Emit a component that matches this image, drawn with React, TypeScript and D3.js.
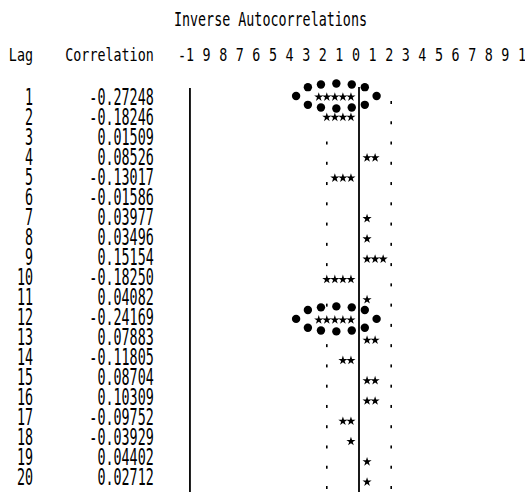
import React from "react";
import * as d3 from "d3";

// SAS style inverse autocorrelation printout
const lags = [1, 2, 3, 4, 5, 6, 7, 8, 9, 10, 11, 12, 13, 14, 15, 16, 17, 18, 19, 20];
const correlations = [
  -0.27248, -0.18246, 0.01509, 0.08526, -0.13017, -0.01586, 0.03977, 0.03496, 0.15154, -0.1825,
  0.04082, -0.24169, 0.07883, -0.11805, 0.08704, 0.10309, -0.09752, -0.03929, 0.04402, 0.02712,
];
const tickValues = [-1, -0.9, -0.8, -0.7, -0.6, -0.5, -0.4, -0.3, -0.2, -0.1, 0, 0.1, 0.2, 0.3, 0.4, 0.5, 0.6, 0.7, 0.8, 0.9, 1];
const tickLabels = ["-1", "9", "8", "7", "6", "5", "4", "3", "2", "1", "0", "1", "2", "3", "4", "5", "6", "7", "8", "9", "1"];
const starUnit = 0.05; // one * per 0.05
const stdErrMark = 0.2; // where the "." marks sit
const circledLags = [1, 12]; // hand drawn rings on the print

const W = 525;
const H = 492;
const FONT = "'DejaVu Sans Mono', 'Liberation Mono', monospace";
const ADV = 0.602; // DejaVu Sans Mono advance per em

const Txt = ({ x, y, anchor = "start", size, cw, children }: any) => (
  <text
    transform={`translate(${x},${y}) scale(${cw / (size * ADV)},1)`}
    textAnchor={anchor}
    fontSize={size}
    fontFamily={FONT}
    fill="#000"
  >
    {children}
  </text>
);

export default function App() {
  // printout grid: one character column = 0.05 of correlation
  const x = d3.scaleLinear().domain([-1, 1]).range([198, 520]);
  const cw = (x(1) - x(0)) / 20;
  const colEdge = x(-1 - starUnit); // the left "|" column
  // header digits sit a touch wider than the rows on the scan
  const xHead = d3.scaleLinear().domain([-1, 1]).range([190, 522]);
  const y = d3.scaleLinear().domain([1, 20]).range([97, 482]);
  const yText = d3.scaleLinear().domain([1, 20]).range([104.5, 485]);
  const star = d3.symbol(d3.symbolStar, 26)() as string;

  // ring of dots: sides plus five on top and bottom
  const ringAngles = [0, ...d3.range(5).map((i) => 45 + i * 22.5), 180, ...d3.range(5).map((i) => 225 + i * 22.5)];

  const lagRight = colEdge - 20 * cw + cw / 2;
  const corrRight = colEdge - 5 * cw + cw / 2;

  return (
    <svg width={W} height={H} style={{ position: "absolute", left: 0, top: 0, background: "#fff" }}>
      <Txt x={colEdge + 10 * cw} y={26} anchor="middle" size={19.2} cw={cw}>
        Inverse Autocorrelations
      </Txt>
      <Txt x={lagRight} y={61} anchor="end" size={18.5} cw={cw}>
        Lag
      </Txt>
      <Txt x={corrRight} y={61} anchor="end" size={18.5} cw={cw}>
        Correlation
      </Txt>
      {tickValues.map((t, i) => (
        <Txt key={i} x={i === 0 ? xHead(t) + cw / 2 : xHead(t)} y={61} anchor={i === 0 ? "end" : "middle"} size={18.5} cw={cw}>
          {tickLabels[i]}
        </Txt>
      ))}

      {/* the | columns */}
      <line x1={colEdge} x2={colEdge} y1={y(1) - 9} y2={H} stroke="#000" strokeWidth={1.8} />
      <line x1={x(0)} x2={x(0)} y1={y(1) - 10} y2={H} stroke="#000" strokeWidth={1.8} />
      <line x1={x(1 + starUnit)} x2={x(1 + starUnit)} y1={y(1) - 9} y2={H} stroke="#000" strokeWidth={1.8} />

      {lags.map((lag, i) => {
        const r = correlations[i];
        const n = Math.round(Math.abs(r) / starUnit);
        const sign = r < 0 ? -1 : 1;
        const ry = y(lag);
        const nDots = Math.round(stdErrMark / starUnit);
        return (
          <g key={lag}>
            <Txt x={lagRight} y={yText(lag)} anchor="end" size={23} cw={cw}>
              {lag}
            </Txt>
            <Txt x={corrRight} y={yText(lag)} anchor="end" size={23} cw={cw}>
              {r.toFixed(5)}
            </Txt>
            {d3.range(1, n + 1).map((k) => (
              <path key={k} d={star} transform={`translate(${x(sign * k * starUnit)},${ry})`} fill="#000" />
            ))}
            {[-1, 1]
              .filter((s) => !(s === sign && n >= nDots))
              .map((s) => (
                <rect key={s} x={x(s * stdErrMark) - 0.8} y={ry + 4} width={1.6} height={3} fill="#000" />
              ))}
          </g>
        );
      })}

      {circledLags.map((lag) => {
        const r = correlations[lag - 1];
        const n = Math.round(Math.abs(r) / starUnit);
        const cx = x(-((n + 1) / 2) * starUnit) + 1.5;
        const cy = y(lag) - 1;
        const rx = n * cw;
        return ringAngles.map((a, j) => (
          <circle
            key={`${lag}-${j}`}
            cx={cx + rx * Math.cos((a * Math.PI) / 180)}
            cy={cy - 12.5 * Math.sin((a * Math.PI) / 180)}
            r={4.2}
            fill="#000"
          />
        ));
      })}
    </svg>
  );
}
